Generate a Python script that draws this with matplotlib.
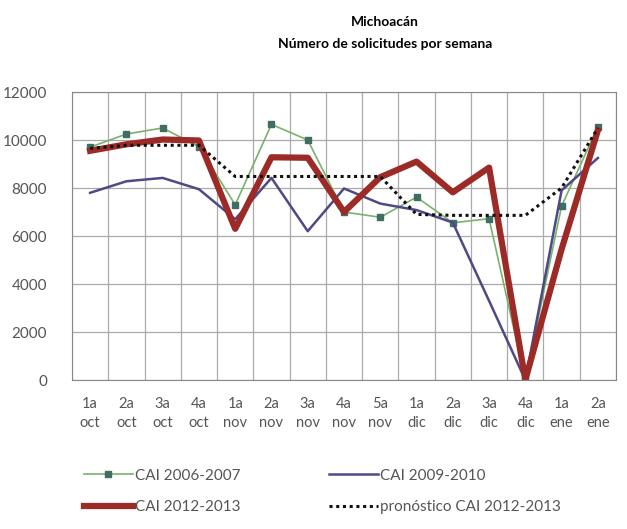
import matplotlib
matplotlib.use("Agg")
import matplotlib.pyplot as plt
import numpy as np

plt.rcParams['font.family'] = ['Lato', 'DejaVu Sans']

semanas = ['1a\noct', '2a\noct', '3a\noct', '4a\noct', '1a\nnov', '2a\nnov', '3a\nnov',
           '4a\nnov', '5a\nnov', '1a\ndic', '2a\ndic', '3a\ndic', '4a\ndic', '1a\nene', '2a\nene']
cai_2006 = [9700, 10250, 10500, 9720, 7300, 10650, 10000, 7000, 6780, 7620, 6550, 6720, 0, 7250, 10550]
cai_2009 = [7800, 8280, 8420, 7950, 6700, 8420, 6200, 7980, 7350, 7080, 6560, 3300, 0, 7900, 9250]
cai_2012 = [9550, 9820, 10020, 9980, 6300, 9280, 9260, 7000, 8450, 9100, 7820, 8850, 0, 5450, 10400]
pronostico = [9650, 9780, 9780, 9780, 8480, 8480, 8480, 8480, 8480, 6900, 6860, 6860, 6860, 8000, 10500]

fig = plt.figure(figsize=(6.27, 5.29), dpi=100)
ax = fig.add_axes([72/627, 1 - 380/529, 544/627, 288/529])
x = np.arange(len(semanas))

l1, = ax.plot(x, cai_2006, color='#79b26a', lw=1.2, marker='s', markersize=5,
              markerfacecolor='#3f6e62', markeredgecolor='#3f6e62', label='CAI 2006-2007')
l2, = ax.plot(x, cai_2009, color='#4e4a85', lw=1.8, label='CAI 2009-2010')
l3, = ax.plot(x, cai_2012, color='#9c2b27', lw=4.5, label='CAI 2012-2013')
l4, = ax.plot(x, pronostico, color='#111111', lw=2.2, linestyle=(0, (1, 1.2)),
              label='pronóstico CAI 2012-2013')

ax.set_xlim(-0.5, len(semanas) - 0.5)
ax.set_ylim(0, 12000)
ax.set_yticks(range(0, 12001, 2000))
ax.set_xticks(x)
ax.set_xticklabels(semanas, fontsize=10.5, color='#555555', linespacing=1.45)
ax.set_xticks(np.arange(-0.5, len(semanas), 1), minor=True)
ax.tick_params(axis='x', which='major', length=0, pad=12)
ax.tick_params(axis='x', which='minor', length=0)
ax.tick_params(axis='y', length=0, pad=18, labelsize=11, labelcolor='#555555')
ax.grid(True, which='minor', axis='x', color='#aaaaaa', lw=0.9)
ax.grid(True, which='major', axis='y', color='#aaaaaa', lw=0.9)
for s in ax.spines.values():
    s.set_color('#888888')

fig.text(385/627, 1 - 22/529, 'Michoacán', ha='center', va='center', fontsize=10, fontweight='bold')
fig.text(385/627, 1 - 44/529, 'Número de solicitudes por semana', ha='center', va='center',
         fontsize=10, fontweight='bold')

fig.legend(handles=[l1, l3, l2, l4], ncol=2, loc='upper left', bbox_to_anchor=(70/627, 1 - 455/529),
           frameon=False, fontsize=11, handlelength=3.2, handletextpad=0.15, columnspacing=5.8,
           labelspacing=1.15, labelcolor='#555555')

fig.savefig('out.png', dpi=100)
